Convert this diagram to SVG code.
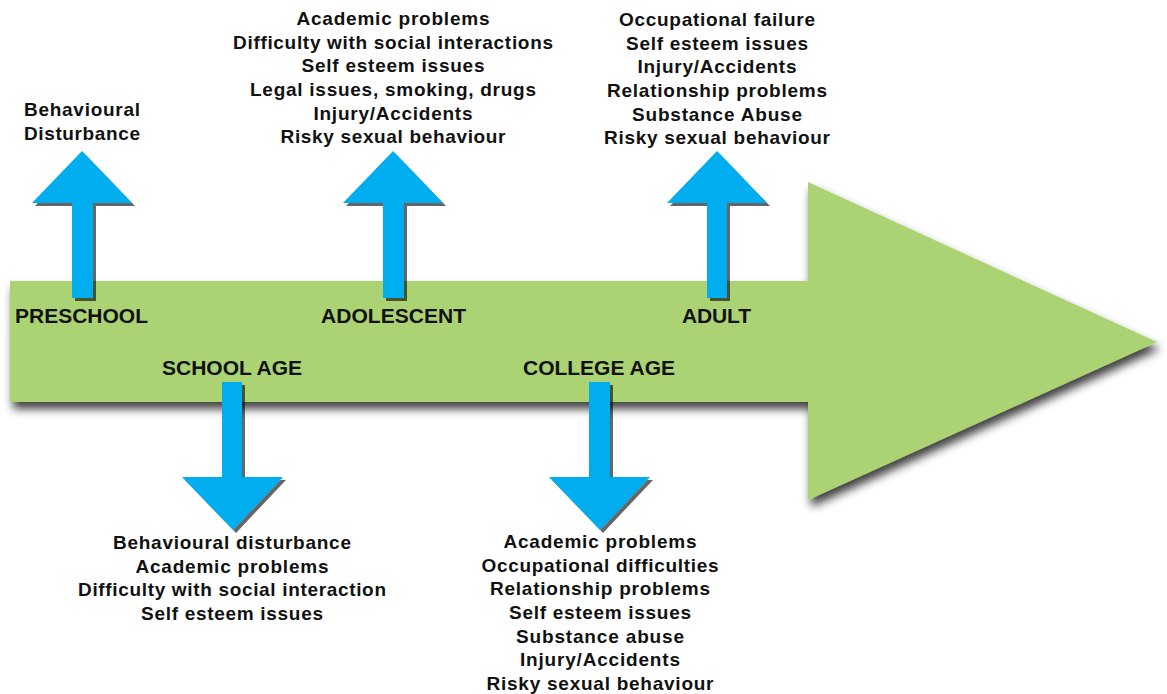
<svg xmlns="http://www.w3.org/2000/svg" width="1167" height="694" viewBox="0 0 1167 694">
<defs>
<filter id="barShadow" x="-5%" y="-20%" width="115%" height="150%">
<feDropShadow dx="3" dy="7" stdDeviation="5" flood-color="#000" flood-opacity="0.75"/>
</filter>
<filter id="arrowShadow" x="-20%" y="-20%" width="140%" height="140%">
<feDropShadow dx="3" dy="3" stdDeviation="0.6" flood-color="#000" flood-opacity="0.6"/>
</filter>
<style>
.stage{font-family:"Liberation Sans",Arial,sans-serif;font-weight:bold;font-size:21px;fill:#111}
.txt{font-family:"Liberation Sans",Arial,sans-serif;font-weight:bold;font-size:19px;fill:#111;text-anchor:middle}
.txtl{font-family:"Liberation Sans",Arial,sans-serif;font-weight:bold;font-size:19px;fill:#111}
.blue{fill:#00aeef;filter:url(#arrowShadow)}
.green{fill:#acd373;filter:url(#barShadow)}
</style>
</defs>
<rect width="1167" height="694" fill="#ffffff"/>
<g id="timeline">
<polygon class="green" points="10,281 808,281 808,182 1157,342 808,500 808,402 10,402"/>
</g>
<g id="connectors">
<polygon class="blue" points="82,151 132,203 93,203 93,298 72,298 72,203 32,203"/>
<polygon class="blue" points="393,151 443,203 404,203 404,298 383,298 383,203 343,203"/>
<polygon class="blue" points="717,151 767,203 727,203 727,298 707,298 707,203 667,203"/>
<polygon class="blue" points="222,382 242,382 242,477 283,477 233,530 182,477 222,477"/>
<polygon class="blue" points="589,382 610,382 610,477 650,477 600,530 549,477 589,477"/>
</g>
<g id="preschool">
<text class="stage" x="15" y="323" textLength="133">PRESCHOOL</text>
<text class="txtl" x="24" y="116" textLength="116" lengthAdjust="spacing">Behavioural</text>
<text class="txtl" x="24" y="140" textLength="116" lengthAdjust="spacing">Disturbance</text>
</g>
<g id="school-age">
<text class="stage" x="162" y="375" textLength="140">SCHOOL AGE</text>
<text class="txt" x="232" y="549" textLength="238">Behavioural disturbance</text>
<text class="txt" x="232" y="573" textLength="193">Academic problems</text>
<text class="txt" x="232" y="596" textLength="308">Difficulty with social interaction</text>
<text class="txt" x="232" y="620" textLength="182">Self esteem issues</text>
</g>
<g id="adolescent">
<text class="stage" x="321" y="323" textLength="145">ADOLESCENT</text>
<text class="txt" x="393" y="25" textLength="193">Academic problems</text>
<text class="txt" x="393" y="49" textLength="320">Difficulty with social interactions</text>
<text class="txt" x="393" y="72" textLength="183">Self esteem issues</text>
<text class="txt" x="393" y="96" textLength="286">Legal issues, smoking, drugs</text>
<text class="txt" x="393" y="120" textLength="159">Injury/Accidents</text>
<text class="txt" x="393" y="143" textLength="225">Risky sexual behaviour</text>
</g>
<g id="college-age">
<text class="stage" x="523" y="375" textLength="152">COLLEGE AGE</text>
<text class="txt" x="600" y="548" textLength="193">Academic problems</text>
<text class="txt" x="600" y="572" textLength="237">Occupational difficulties</text>
<text class="txt" x="600" y="595" textLength="220">Relationship problems</text>
<text class="txt" x="600" y="619" textLength="182">Self esteem issues</text>
<text class="txt" x="600" y="643" textLength="168">Substance abuse</text>
<text class="txt" x="600" y="666" textLength="160">Injury/Accidents</text>
<text class="txt" x="600" y="690" textLength="227">Risky sexual behaviour</text>
</g>
<g id="adult">
<text class="stage" x="682" y="323" textLength="69">ADULT</text>
<text class="txt" x="717" y="26" textLength="196">Occupational failure</text>
<text class="txt" x="717" y="50" textLength="182">Self esteem issues</text>
<text class="txt" x="717" y="73" textLength="159">Injury/Accidents</text>
<text class="txt" x="717" y="97" textLength="220">Relationship problems</text>
<text class="txt" x="717" y="121" textLength="170">Substance Abuse</text>
<text class="txt" x="717" y="144" textLength="226">Risky sexual behaviour</text>
</g>
</svg>
